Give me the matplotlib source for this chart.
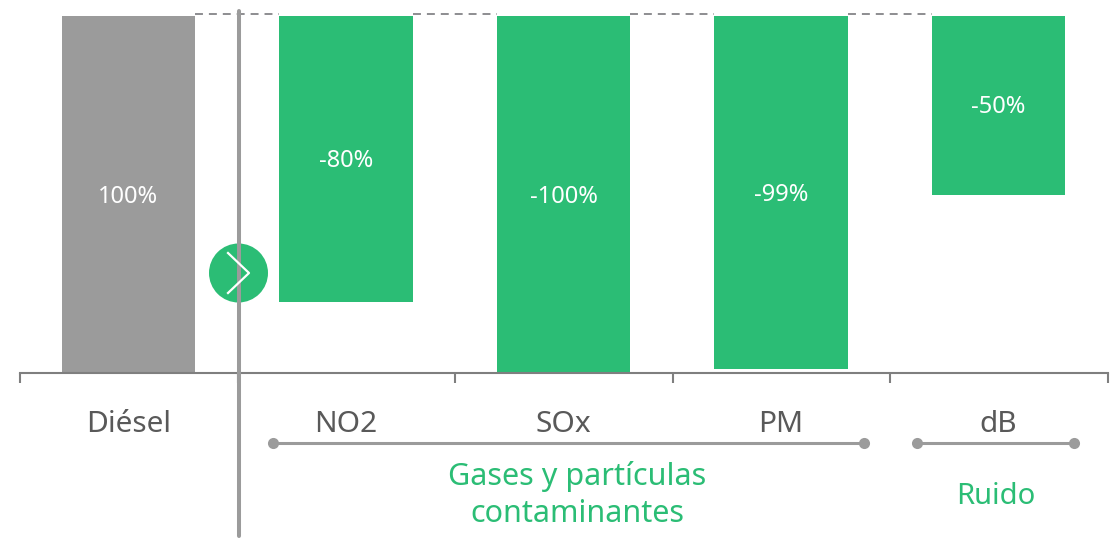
import matplotlib
matplotlib.use('Agg')
import matplotlib.pyplot as plt
from matplotlib.patches import Circle
from matplotlib.transforms import Affine2D

categories = ['Diésel', 'NO2', 'SOx', 'PM', 'dB']
values = [100, -80, -100, -99, -50]
labels = ['100%', '-80%', '-100%', '-99%', '-50%']
group_names = ['Gases y partículas\ncontaminantes', 'Ruido']

GREEN = '#2bbd75'
GREY = '#9b9b9b'
AXIS = '#7f7f7f'
DASH = '#6f6f73'
DARK = '#595959'
W, H = 1114, 541

plt.rcParams['font.family'] = ['Noto Sans', 'DejaVu Sans']

fig = plt.figure(figsize=(W / 100, H / 100), dpi=100)
ax = fig.add_axes([20 / W, 1 - 373 / H, 1088 / W, 357 / H])
ax.set_xlim(0, 5)
ax.set_ylim(0, 100)

# pixel coordinates with the origin at the top left, for the annotations
px = Affine2D().scale(1, -1).translate(0, H)

x = [i + 0.4975 for i in range(len(values))]
bar_w = 0.613
for i, v in enumerate(values):
    if v > 0:
        bottom, height, color = 0, v, GREY
    else:
        bottom, height, color = 100 + v, -v, GREEN
    ax.bar(x[i], height, bottom=bottom, width=bar_w, color=color, linewidth=0)
    ax.annotate(labels[i], (x[i], bottom + height / 2), xytext=(0, -1.5),
                textcoords='offset points', color='white', fontsize=17,
                ha='center', va='center')

# dashed connectors between the tops of the bars
for i in range(len(values) - 1):
    ax.plot([x[i] + bar_w / 2, x[i + 1] - bar_w / 2], [100.5, 100.5], color=DASH,
            lw=1.1, dashes=(5.2, 3.9), clip_on=False)

for s in ['top', 'left', 'right']:
    ax.spines[s].set_visible(False)
ax.spines['bottom'].set_color(AXIS)
ax.spines['bottom'].set_linewidth(1.5)
ax.set_yticks([])
ax.set_xticks(range(6))
ax.set_xticklabels([])
ax.tick_params(axis='x', which='major', length=7.2, width=1.5, color=AXIS)
ax.set_xticks(x, minor=True)
ax.set_xticklabels(categories, minor=True, fontsize=21.5, color=DARK)
ax.tick_params(axis='x', which='minor', length=0, pad=26.5)

# vertical divider and the round marker on it
fig.add_artist(plt.Line2D([238.5, 238.5], [11, 536], color=GREY, lw=2.9,
                          transform=px, solid_capstyle='round'))
fig.add_artist(Circle((238.5, 273), 29.5, color=GREEN, lw=0, transform=px))
fig.add_artist(plt.Line2D([228, 249, 228], [253, 273, 293], color='white', lw=1.6,
                          transform=px))

# range brackets under the categories
for x0, x1 in [(273, 864), (917, 1074)]:
    fig.add_artist(plt.Line2D([x0, x1], [443, 443], color=GREY, lw=2.2, marker='o',
                              markersize=8, markeredgewidth=0, transform=px))

fig.text(577, 495, group_names[0], transform=px, color=GREEN, fontsize=22,
         ha='center', va='center', linespacing=1.32)
fig.text(996, 497, group_names[1], transform=px, color=GREEN, fontsize=21,
         ha='center', va='center')

fig.savefig('out.png', dpi=100)
